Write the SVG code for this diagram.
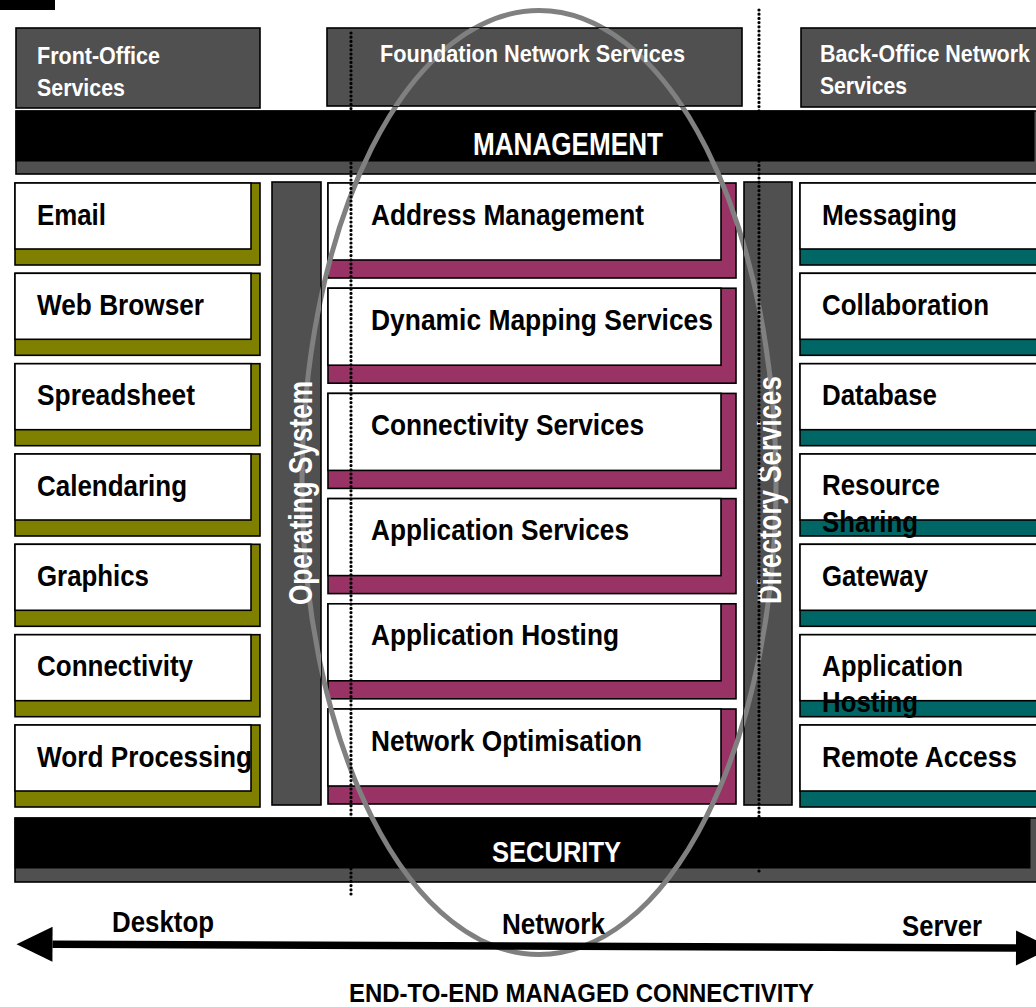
<svg xmlns="http://www.w3.org/2000/svg" xmlns:xlink="http://www.w3.org/1999/xlink" width="1036" height="1007" viewBox="0 0 1036 1007">
<style>
text{font-family:"Liberation Sans",Arial,sans-serif;font-weight:bold}
.t{font-size:30px;fill:#000}
.hd{font-size:24px;fill:#fff}
.bar{font-size:32px;fill:#fff}
.col{font-size:33px;fill:#fff}
.cap{font-size:26px;fill:#000}
.dk{fill:#505050;stroke:#000;stroke-width:1.6}
.blk{fill:#000;stroke:#000;stroke-width:1}
.wh{fill:#fff;stroke:#000;stroke-width:1.6}
.ol{fill:#808000;stroke:#000;stroke-width:1.6}
.mg{fill:#993366;stroke:#000;stroke-width:1.6}
.tl{fill:#006666;stroke:#000;stroke-width:1.6}
.dot{stroke:#000;stroke-width:3.2;stroke-dasharray:0 4.2;stroke-linecap:round;fill:none}
</style>
<defs>
<ellipse id="ringShape" cx="539" cy="482.5" rx="237" ry="472" fill="none" stroke="#808080" stroke-width="5"/>
<clipPath id="cpF"><rect x="327" y="28" width="415" height="78"/></clipPath>
<clipPath id="cpOS"><rect x="272" y="182" width="49" height="623"/></clipPath>
<clipPath id="cpDS"><rect x="744" y="182" width="48" height="623"/></clipPath>
<marker id="aEnd" viewBox="0 0 36 35" refX="0" refY="17.5" markerWidth="36" markerHeight="35" markerUnits="userSpaceOnUse" orient="auto" overflow="visible"><path d="M0,0 L36,17.5 L0,35 Z" fill="#000"/></marker>
<marker id="aStart" viewBox="0 0 36 35" refX="36" refY="17.5" markerWidth="36" markerHeight="35" markerUnits="userSpaceOnUse" orient="auto" overflow="visible"><path d="M36,0 L0,17.5 L36,35 Z" fill="#000"/></marker>
</defs>
<rect width="1036" height="1007" fill="#fff"/>
<rect x="0" y="0" width="55" height="10" fill="#000"/>

<g id="front-office">
<rect class="dk" x="16" y="28" width="244" height="80"/>
<text class="hd" x="37" y="64" textLength="123" lengthAdjust="spacingAndGlyphs">Front-Office</text>
<text class="hd" x="37" y="96" textLength="88" lengthAdjust="spacingAndGlyphs">Services</text>
</g>
<g id="back-office">
<rect class="dk" x="801" y="28" width="250" height="79"/>
<text class="hd" x="820" y="62" textLength="210" lengthAdjust="spacingAndGlyphs">Back-Office Network</text>
<text class="hd" x="820" y="94" textLength="87" lengthAdjust="spacingAndGlyphs">Services</text>
</g>

<g id="management">
<rect class="dk" x="16" y="111" width="1040" height="63"/>
<rect class="blk" x="16" y="111" width="1018" height="50"/>
<text class="bar" x="568" y="155" text-anchor="middle" textLength="190" lengthAdjust="spacingAndGlyphs">MANAGEMENT</text>
</g>
<g id="security">
<rect class="dk" x="15" y="818" width="1040" height="64"/>
<rect class="blk" x="15" y="818" width="1015" height="50"/>
<text class="bar" style="font-size:29px" x="492" y="862" textLength="129" lengthAdjust="spacingAndGlyphs">SECURITY</text>
</g>

<g id="email"><rect class="ol" x="15" y="183" width="245" height="82"/><rect class="wh" x="15" y="183" width="236" height="66"/><text class="t" x="37" y="224.5" textLength="69" lengthAdjust="spacingAndGlyphs">Email</text></g>
<g id="web-browser"><rect class="ol" x="15" y="273.3" width="245" height="82"/><rect class="wh" x="15" y="273.3" width="236" height="66"/><text class="t" x="37" y="314.8" textLength="167" lengthAdjust="spacingAndGlyphs">Web Browser</text></g>
<g id="spreadsheet"><rect class="ol" x="15" y="363.7" width="245" height="82"/><rect class="wh" x="15" y="363.7" width="236" height="66"/><text class="t" x="37" y="405.2" textLength="158" lengthAdjust="spacingAndGlyphs">Spreadsheet</text></g>
<g id="calendaring"><rect class="ol" x="15" y="454" width="245" height="82"/><rect class="wh" x="15" y="454" width="236" height="66"/><text class="t" x="37" y="495.5" textLength="150" lengthAdjust="spacingAndGlyphs">Calendaring</text></g>
<g id="graphics"><rect class="ol" x="15" y="544.3" width="245" height="82"/><rect class="wh" x="15" y="544.3" width="236" height="66"/><text class="t" x="37" y="585.8" textLength="112" lengthAdjust="spacingAndGlyphs">Graphics</text></g>
<g id="connectivity"><rect class="ol" x="15" y="634.7" width="245" height="82"/><rect class="wh" x="15" y="634.7" width="236" height="66"/><text class="t" x="37" y="676.2" textLength="156" lengthAdjust="spacingAndGlyphs">Connectivity</text></g>
<g id="word-processing"><rect class="ol" x="15" y="725" width="245" height="82"/><rect class="wh" x="15" y="725" width="236" height="66"/><text class="t" x="37" y="766.5" textLength="215" lengthAdjust="spacingAndGlyphs">Word Processing</text></g>

<g id="address-management"><rect class="mg" x="328" y="183" width="408" height="95"/><rect class="wh" x="328" y="183" width="393" height="77"/><text class="t" x="371" y="224.5" textLength="273" lengthAdjust="spacingAndGlyphs">Address Management</text></g>
<g id="dynamic-mapping"><rect class="mg" x="328" y="288.2" width="408" height="95"/><rect class="wh" x="328" y="288.2" width="393" height="77"/><text class="t" x="371" y="329.7" textLength="342" lengthAdjust="spacingAndGlyphs">Dynamic Mapping Services</text></g>
<g id="connectivity-services"><rect class="mg" x="328" y="393.4" width="408" height="95"/><rect class="wh" x="328" y="393.4" width="393" height="77"/><text class="t" x="371" y="434.9" textLength="273" lengthAdjust="spacingAndGlyphs">Connectivity Services</text></g>
<g id="application-services"><rect class="mg" x="328" y="498.6" width="408" height="95"/><rect class="wh" x="328" y="498.6" width="393" height="77"/><text class="t" x="371" y="540.1" textLength="258" lengthAdjust="spacingAndGlyphs">Application Services</text></g>
<g id="application-hosting-net"><rect class="mg" x="328" y="603.8" width="408" height="95"/><rect class="wh" x="328" y="603.8" width="393" height="77"/><text class="t" x="371" y="645.3" textLength="248" lengthAdjust="spacingAndGlyphs">Application Hosting</text></g>
<g id="network-optimisation"><rect class="mg" x="328" y="709" width="408" height="95"/><rect class="wh" x="328" y="709" width="393" height="77"/><text class="t" x="371" y="750.5" textLength="271" lengthAdjust="spacingAndGlyphs">Network Optimisation</text></g>

<g id="messaging"><rect class="tl" x="800" y="183" width="260" height="82"/><rect class="wh" x="800" y="183" width="250" height="66"/><text class="t" x="822" y="224.5" textLength="135" lengthAdjust="spacingAndGlyphs">Messaging</text></g>
<g id="collaboration"><rect class="tl" x="800" y="273.3" width="260" height="82"/><rect class="wh" x="800" y="273.3" width="250" height="66"/><text class="t" x="822" y="314.8" textLength="167" lengthAdjust="spacingAndGlyphs">Collaboration</text></g>
<g id="database"><rect class="tl" x="800" y="363.7" width="260" height="82"/><rect class="wh" x="800" y="363.7" width="250" height="66"/><text class="t" x="822" y="405.2" textLength="115" lengthAdjust="spacingAndGlyphs">Database</text></g>
<g id="resource-sharing"><rect class="tl" x="800" y="454" width="260" height="82"/><rect class="wh" x="800" y="454" width="250" height="66"/><text class="t" x="822" y="495" textLength="118" lengthAdjust="spacingAndGlyphs">Resource</text><text class="t" x="822" y="531.5" textLength="96" lengthAdjust="spacingAndGlyphs">Sharing</text></g>
<g id="gateway"><rect class="tl" x="800" y="544.3" width="260" height="82"/><rect class="wh" x="800" y="544.3" width="250" height="66"/><text class="t" x="822" y="585.8" textLength="106" lengthAdjust="spacingAndGlyphs">Gateway</text></g>
<g id="application-hosting-srv"><rect class="tl" x="800" y="634.7" width="260" height="82"/><rect class="wh" x="800" y="634.7" width="250" height="66"/><text class="t" x="822" y="675.5" textLength="141" lengthAdjust="spacingAndGlyphs">Application</text><text class="t" x="822" y="712" textLength="96" lengthAdjust="spacingAndGlyphs">Hosting</text></g>
<g id="remote-access"><rect class="tl" x="800" y="725" width="260" height="82"/><rect class="wh" x="800" y="725" width="250" height="66"/><text class="t" x="822" y="766.5" textLength="195" lengthAdjust="spacingAndGlyphs">Remote Access</text></g>

<g id="ring"><use xlink:href="#ringShape" href="#ringShape"/></g>

<g id="foundation">
<rect class="dk" x="327" y="28" width="415" height="78"/>
<use xlink:href="#ringShape" href="#ringShape" clip-path="url(#cpF)"/>
<text class="hd" x="380" y="62" textLength="305" lengthAdjust="spacingAndGlyphs">Foundation Network Services</text>
</g>
<g id="operating-system">
<rect class="dk" x="272" y="182" width="49" height="623"/>
<use xlink:href="#ringShape" href="#ringShape" clip-path="url(#cpOS)"/>
<text class="col" transform="translate(312,493) rotate(-90)" text-anchor="middle" textLength="224" lengthAdjust="spacingAndGlyphs">Operating System</text>
</g>
<g id="directory-services">
<rect class="dk" x="744" y="182" width="48" height="623"/>
<use xlink:href="#ringShape" href="#ringShape" clip-path="url(#cpDS)"/>
<text class="col" transform="translate(781,490) rotate(-90)" text-anchor="middle" textLength="228" lengthAdjust="spacingAndGlyphs">Directory Services</text>
</g>

<g id="dividers">
<line class="dot" x1="351" y1="33" x2="351" y2="898"/>
<line class="dot" x1="759" y1="10" x2="759" y2="875"/>
</g>

<g id="connectors">
<line x1="52.5" y1="944.3" x2="1016" y2="948" stroke="#000" stroke-width="7.5" marker-start="url(#aStart)" marker-end="url(#aEnd)"/>
<text class="t" x="112" y="932" textLength="102" lengthAdjust="spacingAndGlyphs">Desktop</text>
<text class="t" x="502" y="934" textLength="103" lengthAdjust="spacingAndGlyphs">Network</text>
<text class="t" x="902" y="936" textLength="80" lengthAdjust="spacingAndGlyphs">Server</text>
<text class="cap" x="349" y="1001.5" textLength="465" lengthAdjust="spacingAndGlyphs">END-TO-END MANAGED CONNECTIVITY</text>
</g>
</svg>
